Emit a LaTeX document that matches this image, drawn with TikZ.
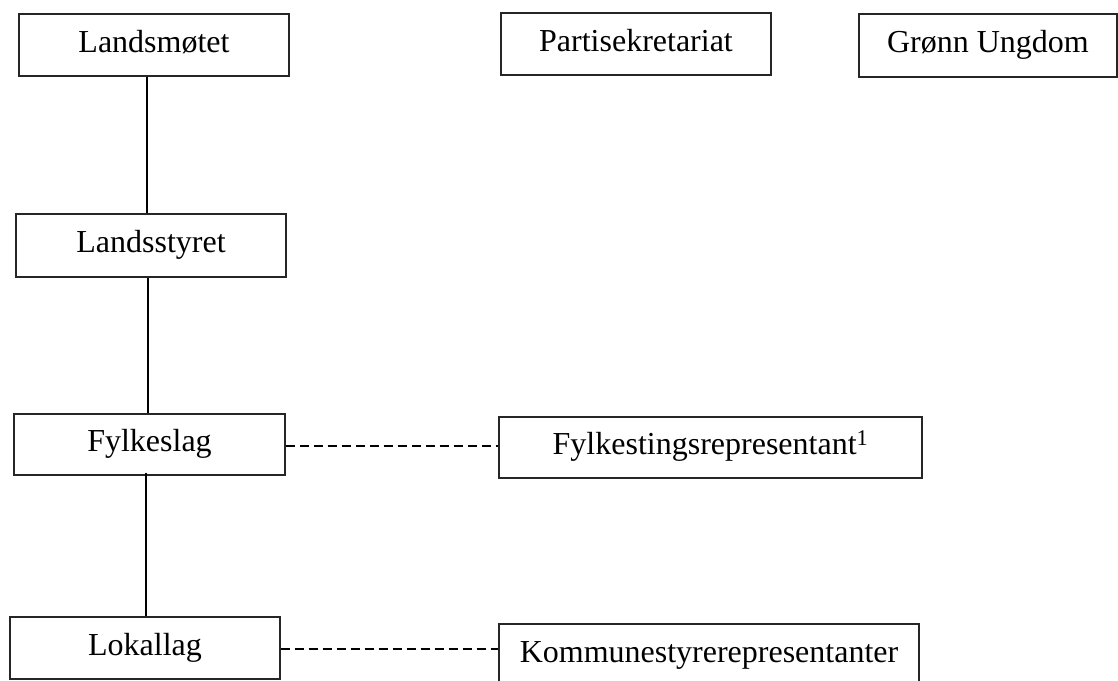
\documentclass[tikz,border=0pt]{standalone}
\usepackage{fontspec}
\setmainfont{Liberation Serif}
\begin{document}
\begin{tikzpicture}[x=1pt,y=-1pt,
  orgbox/.style={draw=black!85, line width=1.1pt, fill=white, inner sep=0pt,
    font=\fontsize{32}{38}\selectfont, text height=22pt, text depth=8pt},
  solidlink/.style={line width=1.3pt, black},
  dashlink/.style={line width=1.3pt, black, dash pattern=on 9pt off 5pt}]
\useasboundingbox (0,0) rectangle (1118,680);
\node[orgbox, minimum width=270pt, minimum height=62pt] (lm) at (154,45) {Landsmøtet};
\node[orgbox, minimum width=270pt, minimum height=62pt] (ps) at (636,44) {Partisekretariat};
\node[orgbox, minimum width=258pt, minimum height=63pt] (gu) at (988,45.5) {Grønn Ungdom};
\node[orgbox, minimum width=270pt, minimum height=63pt] (ls) at (151,245.5) {Landsstyret};
\node[orgbox, minimum width=271pt, minimum height=61pt] (fl) at (149.5,444.5) {Fylkeslag};
\node[orgbox, minimum width=423pt, minimum height=61pt] (fr) at (710.5,447.5) {Fylkestingsrepresentant\textsuperscript{1}};
\node[orgbox, minimum width=270pt, minimum height=62pt] (ll) at (145,648) {Lokallag};
\node[orgbox, minimum width=420pt, minimum height=62pt] (kr) at (709,655) {Kommunestyrerepresentanter};
\coordinate (c1) at (147,0);
\coordinate (c2) at (148,0);
\coordinate (c3) at (146,0);
\draw[solidlink] (lm.south -| c1) -- (ls.north -| c1);
\draw[solidlink] (ls.south -| c2) -- (fl.north -| c2);
\draw[solidlink] ([yshift=3pt]fl.south -| c3) -- (ll.north -| c3);
\coordinate (d1) at (0,446);
\coordinate (d2) at (0,649);
\draw[dashlink] (fl.east |- d1) -- (fr.west |- d1);
\draw[dashlink] (ll.east |- d2) -- (kr.west |- d2);
\end{tikzpicture}
\end{document}
